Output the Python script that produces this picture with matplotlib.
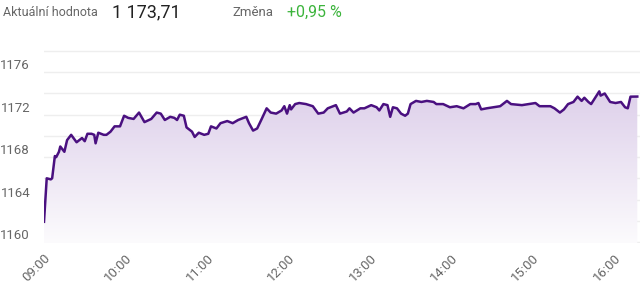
import matplotlib
matplotlib.use('Agg')
import matplotlib.pyplot as plt
import numpy as np
from matplotlib.colors import LinearSegmentedColormap

plt.rcParams['font.family'] = ['Roboto', 'DejaVu Sans']

# minutes after 09:00 and index value
minutes = [0, 2, 5, 6, 8, 9, 11, 12, 15, 17, 20, 24, 28, 30, 32, 35, 37, 38, 40, 44,
           46, 49, 52, 56, 59, 62, 66, 70, 74, 79, 83, 86, 89, 93, 96, 98, 100, 103, 105, 109,
           111, 114, 118, 121, 123, 127, 130, 135, 139, 143, 149, 151, 154, 157, 160, 164, 167, 171, 175, 177,
           179, 181, 182, 185, 188, 193, 198, 202, 206, 209, 215, 218, 223, 225, 228, 233, 236, 241, 245, 247,
           250, 253, 255, 257, 260, 263, 266, 268, 270, 274, 278, 282, 287, 289, 294, 299, 304, 309, 314, 318,
           320, 322, 326, 331, 336, 341, 344, 352, 362, 365, 373, 376, 380, 383, 386, 390, 393, 396, 398, 401,
           403, 406, 409, 410, 413, 417, 421, 425, 428, 430, 432, 437]
values = [1161.9, 1166.0, 1165.9, 1166.0, 1168.1, 1168.0, 1168.5, 1169.0, 1168.5, 1169.6, 1170.1, 1169.4, 1169.8, 1169.5, 1170.2, 1170.2, 1170.1, 1169.3, 1170.3, 1170.1,
          1170.1, 1170.4, 1170.9, 1170.9, 1171.9, 1171.7, 1171.6, 1172.2, 1171.3, 1171.6, 1172.2, 1172.1, 1171.5, 1171.8, 1171.7, 1171.5, 1172.0, 1171.9, 1170.8, 1170.4,
          1169.9, 1170.3, 1170.1, 1170.2, 1170.9, 1170.7, 1171.2, 1171.4, 1171.2, 1171.5, 1171.8, 1171.2, 1170.5, 1170.7, 1171.5, 1172.6, 1172.2, 1172.1, 1172.4, 1172.8,
          1172.1, 1172.9, 1172.5, 1173.0, 1173.1, 1173.0, 1172.8, 1172.1, 1172.2, 1172.6, 1172.9, 1172.1, 1172.3, 1172.6, 1172.2, 1172.6, 1172.6, 1172.9, 1172.7, 1172.4,
          1173.0, 1172.9, 1171.8, 1172.7, 1172.6, 1172.1, 1171.9, 1172.1, 1173.0, 1173.3, 1173.2, 1173.3, 1173.2, 1173.0, 1173.0, 1172.7, 1172.8, 1172.6, 1173.0, 1173.0,
          1173.1, 1172.5, 1172.6, 1172.7, 1172.8, 1173.3, 1173.0, 1172.9, 1173.1, 1172.8, 1172.8, 1172.6, 1172.2, 1172.5, 1173.0, 1173.2, 1173.7, 1173.3, 1173.6, 1173.2,
          1173.0, 1173.6, 1174.2, 1173.8, 1174.0, 1173.2, 1173.1, 1173.2, 1172.7, 1172.6, 1173.7, 1173.71]

hour_labels = ['09:00', '10:00', '11:00', '12:00', '13:00', '14:00', '15:00', '16:00']
y_labels = [1160, 1164, 1168, 1172, 1176]

ymin, ymax = 1159.9, 1178.1
xmax = 439

fig = plt.figure(figsize=(6.4, 2.84), dpi=100)
ax = fig.add_axes([44/640, 1 - 243/284, 1 - 44/640, 193/284])

# light grid every 2 points
for g in range(1160, 1179, 2):
    ax.axhline(g, color='#eeeeee', linewidth=1, zorder=0)

# gradient area under the line
cmap = LinearSegmentedColormap.from_list('fade', ['#fcfbfd', '#ddcfea'])
grad = np.linspace(0, 1, 256).reshape(-1, 1)
img = ax.imshow(grad, extent=[0, xmax, ymin, 1174.5], origin='lower', aspect='auto',
                cmap=cmap, zorder=1)
poly = ax.fill_between(minutes, values, ymin, color='none', linewidth=0)
img.set_clip_path(poly.get_paths()[0], transform=ax.transData)

ax.plot(minutes, values, color='#4a1080', linewidth=1.8, zorder=3)

ax.set_xlim(0, xmax)
ax.set_ylim(ymin, ymax)
for s in ax.spines.values():
    s.set_visible(False)

ax.set_xticks(np.arange(len(hour_labels)) * 60)
ax.set_xticklabels(hour_labels, rotation=45, ha='right', rotation_mode='anchor')
ax.set_yticks(y_labels)
ax.set_yticklabels([str(v) for v in y_labels], va='bottom')
ax.tick_params(axis='both', length=0, colors='#666666', labelsize=9.5)
ax.tick_params(axis='y', pad=10)
ax.tick_params(axis='x', pad=6)

# header
fig.text(3/640, 1 - 12/284, 'Aktuální hodnota', fontsize=9, color='#666666', va='center')
fig.text(112/640, 1 - 12/284, '1 173,71', fontsize=13, color='#222222', va='center')
fig.text(232/640, 1 - 12/284, 'Změna', fontsize=9.5, color='#666666', va='center')
fig.text(287/640, 1 - 12/284, '+0,95 %', fontsize=11.5, color='#3cb43c', va='center')

fig.savefig('out.png', dpi=100)
